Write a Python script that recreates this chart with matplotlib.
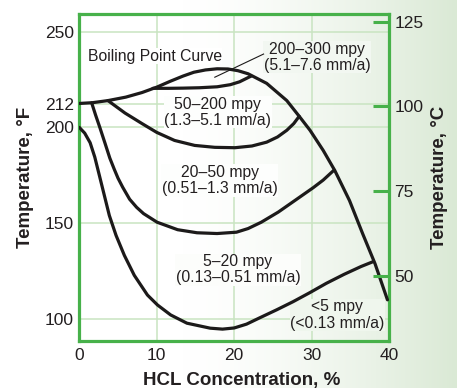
import numpy as np
import matplotlib
matplotlib.use('Agg')
import matplotlib.pyplot as plt

plt.rcParams['font.family'] = ['Liberation Sans', 'DejaVu Sans']

# ---- data (HCl concentration %, temperature °F) ----
boil_x = [0, 1.7, 3.7, 6.0, 8.1, 10.0, 11.7, 13.4, 14.8, 16.3, 17.8, 19.2, 20.5, 21.8, 24.2, 26.8, 28.5, 29.8, 31.5, 33.0, 34.9, 36.6, 38.2, 39.8]
boil_y = [212.5, 212.9, 214.0, 215.8, 218.2, 221.0, 224.0, 226.8, 228.8, 230.0, 230.6, 230.5, 229.6, 228.0, 223.0, 214.0, 205.3, 198.5, 188.0, 177.5, 161.8, 144.5, 128.8, 110.0]

c300_x = [9.5, 11.5, 13.4, 15.5, 17.8, 19.5, 20.7, 22.2]
c300_y = [220.4, 220.4, 220.5, 220.7, 221.2, 222.3, 223.8, 226.8]

c200_x = [3.7, 5.9, 8.1, 10.0, 12.3, 14.9, 17.5, 20.1, 22.3, 24.2, 25.6, 26.8, 27.7, 28.4]
c200_y = [214.0, 207.5, 202.0, 197.4, 193.2, 190.6, 189.6, 189.4, 190.3, 192.3, 195.0, 198.5, 202.0, 205.8]

c50_x = [1.6, 2.1, 2.65, 3.3, 3.94, 4.5, 5.0, 5.6, 6.5, 7.4, 8.3, 10.05, 12.7, 15.2, 17.8, 20.3, 21.8, 23.5, 25.7, 27.9, 30.2, 31.5, 32.9]
c50_y = [212.8, 206.5, 200.0, 192.0, 184.0, 178.3, 173.5, 168.8, 162.5, 158.3, 155.0, 150.5, 146.6, 145.0, 144.6, 145.3, 147.2, 150.5, 155.8, 162.0, 168.5, 172.5, 177.7]

c20_x = [0, 0.7, 1.4, 2.0, 2.6, 3.24, 3.88, 4.75, 5.82, 7.1, 8.8, 10.1, 11.8, 13.9, 16.9, 18.5, 20.0, 21.6, 23.3, 25.5, 27.6, 29.8, 31.9, 34.2, 36.4, 38.0]
c20_y = [200.0, 197.0, 192.0, 184.5, 174.8, 164.4, 154.0, 143.6, 133.2, 122.8, 112.5, 107.3, 102.1, 97.8, 95.2, 94.7, 95.3, 97.3, 100.6, 104.8, 109.0, 113.8, 118.6, 123.3, 127.4, 130.0]

leader_x = [23.8, 17.5]
leader_y = [238.3, 226.2]

xticks = [0, 10, 20, 30, 40]
yticks_f = [100, 150, 200, 212, 250]
yticks_c = [50, 75, 100, 125]

labels = [
    ("Boiling Point Curve", 9.75, 237.2),
    ("200\u2013300 mpy\n(5.1\u20137.6 mm/a)", 30.7, 236.7),
    ("50\u2013200 mpy\n(1.3\u20135.1 mm/a)", 17.9, 207.9),
    ("20\u201350 mpy\n(0.51\u20131.3 mm/a)", 18.15, 172.3),
    ("5\u201320 mpy\n(0.13\u20130.51 mm/a)", 20.5, 125.7),
    ("<5 mpy\n(<0.13 mm/a)", 33.3, 102.1),
]

GREEN = '#47b14a'
GRID = '#c9e4c1'
INK = '#1c1a1a'
TXT = '#231f20'
BG_R = np.array([0.855, 0.914, 0.835])

def bg_color(fx):
    t = np.clip((fx - 0.4) / 0.6, 0, 1) ** 1.5
    return np.array([1.0, 1.0, 1.0]) * (1 - t) + BG_R * t

fig = plt.figure(figsize=(4.57, 3.88), dpi=100)
bg = fig.add_axes([0, 0, 1, 1], zorder=-10)
bg.axis('off')
xs = np.linspace(0, 1, 457)
img = np.array([bg_color(v) for v in xs])[None, :, :]
bg.imshow(img, aspect='auto', extent=[0, 1, 0, 1])

L, B, W, H = 79.3 / 457, 47 / 388, (389 - 79.3) / 457, (341 - 14) / 388
ax = fig.add_axes([L, B, W, H])
ax.patch.set_alpha(0)
ax.set_xlim(0, 40)
ax.set_ylim(88.5, 259.2)
ax.set_xticks(xticks)
ax.set_yticks(yticks_f)
ax.tick_params(axis='both', length=0, labelsize=12.5, labelcolor=TXT)
ax.tick_params(axis='x', pad=5)
ax.tick_params(axis='y', pad=4)
ax.grid(True, color=GRID, lw=1.1)
ax.set_axisbelow(True)
for s in ax.spines.values():
    s.set_color(GREEN)
    s.set_linewidth(2.3)

kw = dict(color=INK, lw=2.3, solid_joinstyle='round', solid_capstyle='round', zorder=3)
for cx, cy in [(boil_x, boil_y), (c300_x, c300_y), (c200_x, c200_y), (c50_x, c50_y), (c20_x, c20_y)]:
    ax.plot(cx, cy, **kw)
ax.plot(leader_x, leader_y, color=INK, lw=0.8, zorder=3)

for txt, x, y in labels:
    fx = L + W * x / 40
    ax.text(x, y, txt, ha='center', va='center', fontsize=11.3, color=TXT,
            linespacing=1.1, zorder=2,
            bbox=dict(fc=bg_color(fx), ec='none', pad=0.3))

ax2 = ax.twinx()
ax2.set_ylim(30.83, 127.27)
ax2.set_yticks(yticks_c)
ax2.tick_params(axis='y', direction='in', length=11.5, width=2.2, color=GREEN,
                labelsize=12.5, labelcolor=TXT, pad=4)
for s in ax2.spines.values():
    s.set_visible(False)

fig.text(25 / 457, 1 - 177 / 388, "Temperature, \u00b0F", rotation=90, ha='center', va='center',
         fontsize=13.5, fontweight='bold', color=TXT)
fig.text(440 / 457, 1 - 177 / 388, "Temperature, \u00b0C", rotation=90, ha='center', va='center',
         fontsize=13.5, fontweight='bold', color=TXT)
fig.text(242 / 457, 1 - 380 / 388, "HCL Concentration, %", ha='center', va='center',
         fontsize=13.5, fontweight='bold', color=TXT)

fig.savefig('out.png', dpi=100)
